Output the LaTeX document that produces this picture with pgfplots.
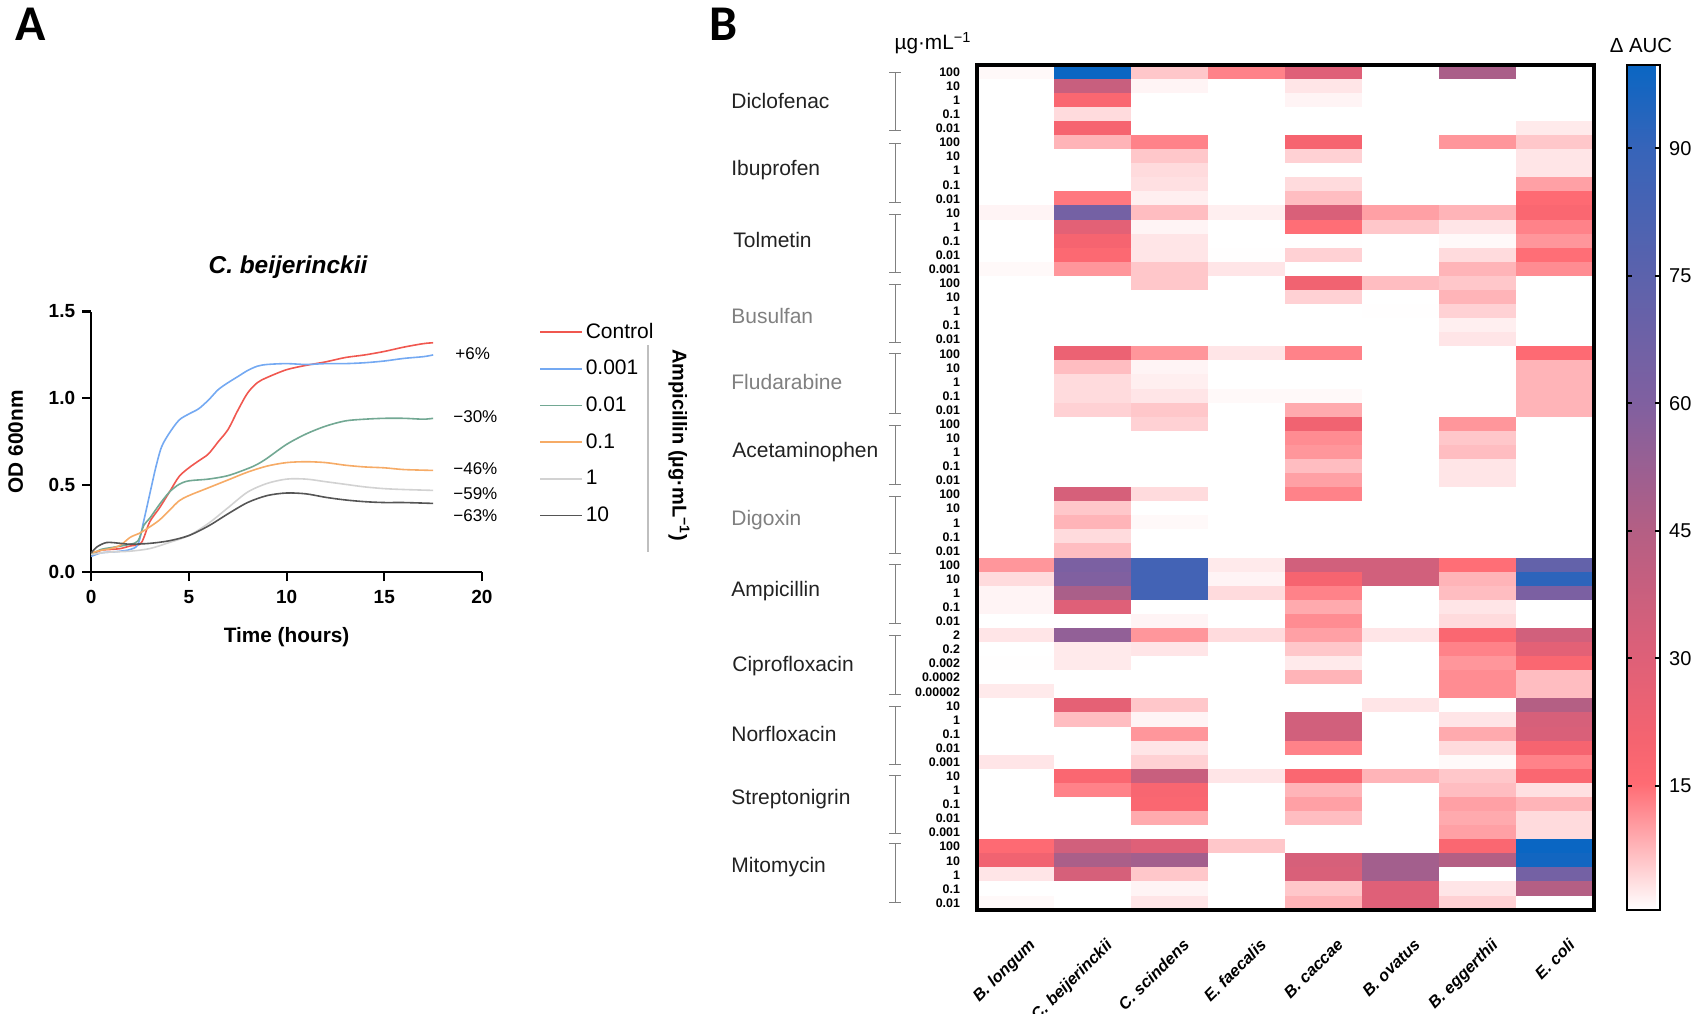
\documentclass[border=0pt]{standalone}
\usepackage{pgfplots}
\pgfplotsset{compat=1.18}
\usepackage{fontspec}
\setmainfont{Liberation Sans}
\newfontfamily\letterfont{Carlito}
\definecolor{cctrl}{HTML}{F0574F}
\definecolor{c001}{HTML}{74A9F2}
\definecolor{c01}{HTML}{72A893}
\definecolor{c1}{HTML}{F6AB66}
\definecolor{c10}{HTML}{D2D2D2}
\definecolor{c100}{HTML}{555555}
\definecolor{drugblack}{HTML}{222222}
\definecolor{druggrey}{HTML}{808080}
\pgfplotsset{
  /pgf/number format/assume math mode=true,
  curve/.style={line width=0.8pt, smooth, no markers},
}
\begin{document}
% coordinates of the picture are the pixels of the reference: 1 px = 0.5 pt, y going down
\begin{tikzpicture}[x=0.5pt, y=-0.5pt]
\path[use as bounding box] (0,0) rectangle (1702,1013);
\coordinate (axa) at (91.2,572);
\coordinate (axb) at (977,910);

\begin{axis}[
  name=panela,
  at={(axa)}, anchor=south west,
  scale only axis, width=195.4pt, height=130.25pt,
  xmin=0, xmax=20, ymin=0, ymax=1.5,
  axis x line=bottom, axis y line=left,
  axis line style={-, line width=1.1pt},
  every tick/.style={black, line width=1.1pt},
  xtick={0,5,...,20}, ytick={0,0.5,1,1.5},
  tick align=outside, major tick length=4.5pt,
  yticklabel style={/pgf/number format/fixed, /pgf/number format/fixed zerofill, /pgf/number format/precision=1},
  xticklabel style={yshift=-1pt},
  tick label style={font=\fontsize{9.5}{11}\selectfont\bfseries},
  xlabel={\bfseries Time (hours)}, ylabel={\bfseries OD 600nm},
  label style={font=\fontsize{10.4}{12}\selectfont},
  xlabel style={yshift=-5pt},
  ylabel style={yshift=6pt},
  clip=false,
  legend cell align=left,
  legend style={at={(1.13,0.985)}, anchor=north west, draw=none, fill=none,
    font=\fontsize{10.5}{12}\selectfont, row sep=6.5pt,
    nodes={inner sep=1.5pt}},
  legend image code/.code={
    \draw[#1, line width=0.8pt] (0pt,0pt) -- (14.5pt,0pt);
    \path (0pt,0pt) -- (21pt,0pt);
  },
]
\addplot[curve, color=cctrl] coordinates {
(0,0.10)(0.5,0.125)(1,0.13)(1.5,0.135)(2,0.15)(2.5,0.16)(2.7,0.2)(3,0.29)(3.5,0.37)(4,0.46)(4.5,0.55)(5,0.60)(5.5,0.64)(6,0.68)(6.5,0.75)(7,0.82)(7.5,0.93)(8,1.03)(8.5,1.09)(9,1.12)(10,1.165)(11,1.19)(12,1.21)(13,1.235)(14,1.25)(15,1.27)(16,1.295)(17,1.315)(17.5,1.32)};
\addlegendentry{Control}
\addplot[curve, color=c001] coordinates {
(0,0.09)(0.5,0.11)(1,0.115)(1.5,0.12)(2,0.13)(2.4,0.16)(2.7,0.3)(3,0.45)(3.3,0.6)(3.6,0.72)(4,0.8)(4.5,0.875)(5,0.91)(5.5,0.94)(6,0.99)(6.5,1.05)(7,1.09)(7.5,1.125)(8,1.16)(8.5,1.185)(9,1.195)(10,1.2)(11,1.195)(12,1.2)(13,1.2)(14,1.205)(15,1.215)(16,1.23)(17,1.24)(17.5,1.25)};
\addlegendentry{0.001}
\addplot[curve, color=c01] coordinates {
(0,0.1)(0.5,0.13)(1,0.14)(2,0.16)(2.4,0.18)(2.7,0.27)(3,0.31)(3.5,0.39)(4,0.46)(4.5,0.505)(5,0.525)(6,0.535)(7,0.555)(8,0.595)(8.5,0.62)(9,0.655)(10,0.735)(11,0.795)(12,0.84)(13,0.87)(14,0.88)(15,0.885)(16,0.885)(17,0.88)(17.5,0.885)};
\addlegendentry{0.01}
\addplot[curve, color=c1] coordinates {
(0,0.11)(0.5,0.125)(1,0.135)(1.5,0.155)(2,0.2)(2.5,0.225)(3,0.26)(3.5,0.3)(4,0.355)(4.5,0.41)(5,0.44)(6,0.485)(7,0.53)(8,0.575)(9,0.61)(10,0.63)(11,0.635)(12,0.63)(13,0.615)(14,0.605)(15,0.6)(16,0.59)(17.5,0.585)};
\addlegendentry{0.1}
\addplot[curve, color=c10] coordinates {
(0,0.1)(0.5,0.11)(1,0.115)(2,0.12)(3,0.135)(4,0.17)(5,0.21)(6,0.28)(7,0.37)(8,0.46)(9,0.51)(10,0.535)(11,0.535)(12,0.52)(13,0.505)(14,0.49)(15,0.48)(16,0.475)(17.5,0.47)};
\addlegendentry{1}
\addplot[curve, color=c100] coordinates {
(0,0.11)(0.3,0.145)(0.8,0.17)(1.5,0.165)(2,0.16)(3,0.165)(4,0.18)(5,0.21)(6,0.265)(7,0.335)(8,0.4)(9,0.44)(10,0.455)(11,0.45)(12,0.43)(13,0.415)(14,0.405)(15,0.4)(16,0.4)(17.5,0.395)};
\addlegendentry{10}
\end{axis}

\begin{axis}[
  name=heat,
  at={(axb)}, anchor=south west,
  scale only axis, width=308.5pt, height=422.5pt,
  xmin=-0.5, xmax=7.5, ymin=-0.5, ymax=59.5,
  y dir=reverse,
  axis line style={line width=1.7pt},
  axis on top,
  xtick={0,...,7}, ytick={0,...,59},
  major tick length=0pt,
  xtick pos=bottom, ytick pos=left,
  xticklabels={B. longum, C. beijerinckii, C. scindens, E. faecalis, B. caccae, B. ovatus, B. eggerthii, E. coli},
  xticklabel style={rotate=45, anchor=north east, font=\fontsize{8.2}{10}\selectfont\bfseries\itshape, yshift=-10.5pt, xshift=-2pt},
  yticklabels={100,10,1,0.1,0.01,100,10,1,0.1,0.01,10,1,0.1,0.01,0.001,100,10,1,0.1,0.01,100,10,1,0.1,0.01,100,10,1,0.1,0.01,100,10,1,0.1,0.01,100,10,1,0.1,0.01,2,0.2,0.002,0.0002,0.00002,10,1,0.1,0.01,0.001,10,1,0.1,0.01,0.001,100,10,1,0.1,0.01},
  yticklabel style={font=\fontsize{6.2}{7}\selectfont\bfseries, xshift=-5pt, inner ysep=0pt},
  colormap={auc}{
    rgb255(0)=(255,255,255)
    rgb255(15)=(255,107,115)
    rgb255(20)=(245,100,112)
    rgb255(30)=(222,96,120)
    rgb255(45)=(180,95,132)
    rgb255(60)=(128,96,160)
    rgb255(75)=(92,98,172)
    rgb255(90)=(55,100,185)
    rgb255(100)=(10,102,195)
  },
  point meta min=0.4, point meta max=99.8,
  colorbar,
  colorbar style={
    at={(parent axis.north east)}, anchor=north west, xshift=8pt,
    scale only axis, width=16.5pt,
    axis line style={line width=1pt},
    ytick={15,30,45,60,75,90},
    yticklabel pos=right,
    tick align=inside,
    major tick length=2.5pt,
    every tick/.style={black, line width=1pt},
    yticklabel style={font=\fontsize{10}{12}\selectfont, xshift=1pt},
  },
]
\addplot[matrix plot*, mesh/cols=8, point meta=explicit] coordinates {
(0,0)[1] (1,0)[100] (2,0)[6] (3,0)[13] (4,0)[30] (5,0)[0] (6,0)[48] (7,0)[0]
(0,1)[0] (1,1)[38] (2,1)[1.5] (3,1)[0] (4,1)[3] (5,1)[0] (6,1)[0] (7,1)[0]
(0,2)[0] (1,2)[18] (2,2)[0] (3,2)[0] (4,2)[1.5] (5,2)[0] (6,2)[0] (7,2)[0]
(0,3)[0] (1,3)[4] (2,3)[0] (3,3)[0] (4,3)[0] (5,3)[0] (6,3)[0] (7,3)[0]
(0,4)[0] (1,4)[20] (2,4)[0] (3,4)[0] (4,4)[0] (5,4)[0] (6,4)[0] (7,4)[2.5]
(0,5)[0] (1,5)[8] (2,5)[13] (3,5)[0] (4,5)[20] (5,5)[0] (6,5)[11] (7,5)[6]
(0,6)[0] (1,6)[0] (2,6)[6] (3,6)[0] (4,6)[5] (5,6)[0] (6,6)[0] (7,6)[3]
(0,7)[0] (1,7)[0] (2,7)[4] (3,7)[0] (4,7)[0] (5,7)[0] (6,7)[0] (7,7)[3]
(0,8)[0] (1,8)[0] (2,8)[3.5] (3,8)[0] (4,8)[4] (5,8)[0] (6,8)[0] (7,8)[10]
(0,9)[0] (1,9)[14] (2,9)[2] (3,9)[0] (4,9)[7] (5,9)[0] (6,9)[0] (7,9)[16]
(0,10)[1.5] (1,10)[65] (2,10)[7] (3,10)[2] (4,10)[32] (5,10)[10] (6,10)[8] (7,10)[18]
(0,11)[0] (1,11)[28] (2,11)[1.5] (3,11)[0] (4,11)[15] (5,11)[6] (6,11)[3] (7,11)[13]
(0,12)[0] (1,12)[20] (2,12)[3] (3,12)[0] (4,12)[0.5] (5,12)[0] (6,12)[1] (7,12)[11]
(0,13)[0] (1,13)[17] (2,13)[3] (3,13)[0.5] (4,13)[5] (5,13)[0] (6,13)[4] (7,13)[15]
(0,14)[1] (1,14)[11] (2,14)[6] (3,14)[3] (4,14)[0] (5,14)[0] (6,14)[8] (7,14)[12]
(0,15)[0] (1,15)[0] (2,15)[6] (3,15)[0] (4,15)[22] (5,15)[7] (6,15)[6] (7,15)[0]
(0,16)[0] (1,16)[0] (2,16)[0] (3,16)[0] (4,16)[5] (5,16)[0] (6,16)[8] (7,16)[0]
(0,17)[0] (1,17)[0] (2,17)[0] (3,17)[0] (4,17)[0] (5,17)[0.5] (6,17)[5] (7,17)[0]
(0,18)[0] (1,18)[0] (2,18)[0] (3,18)[0] (4,18)[0] (5,18)[0] (6,18)[2] (7,18)[0]
(0,19)[0] (1,19)[0] (2,19)[0] (3,19)[0] (4,19)[0] (5,19)[0] (6,19)[3] (7,19)[0]
(0,20)[0] (1,20)[24] (2,20)[11] (3,20)[3] (4,20)[13] (5,20)[0] (6,20)[0] (7,20)[16]
(0,21)[0] (1,21)[7] (2,21)[1.5] (3,21)[0] (4,21)[0] (5,21)[0] (6,21)[0] (7,21)[8]
(0,22)[0] (1,22)[4] (2,22)[2] (3,22)[0] (4,22)[0] (5,22)[0] (6,22)[0] (7,22)[8]
(0,23)[0] (1,23)[4] (2,23)[3] (3,23)[1] (4,23)[1] (5,23)[0] (6,23)[0] (7,23)[8]
(0,24)[0] (1,24)[5] (2,24)[6] (3,24)[0] (4,24)[9] (5,24)[0] (6,24)[0] (7,24)[8]
(0,25)[0] (1,25)[0] (2,25)[5] (3,25)[0] (4,25)[22] (5,25)[0] (6,25)[11] (7,25)[0]
(0,26)[0] (1,26)[0] (2,26)[0] (3,26)[0] (4,26)[12] (5,26)[0] (6,26)[6] (7,26)[0]
(0,27)[0] (1,27)[0] (2,27)[0] (3,27)[0] (4,27)[11] (5,27)[0] (6,27)[7] (7,27)[0]
(0,28)[0] (1,28)[0] (2,28)[0] (3,28)[0] (4,28)[7] (5,28)[0] (6,28)[3] (7,28)[0]
(0,29)[0] (1,29)[0] (2,29)[0] (3,29)[0] (4,29)[10] (5,29)[0] (6,29)[3] (7,29)[0]
(0,30)[0] (1,30)[33] (2,30)[4] (3,30)[0] (4,30)[13] (5,30)[0] (6,30)[0] (7,30)[0]
(0,31)[0] (1,31)[6] (2,31)[0] (3,31)[0] (4,31)[0] (5,31)[0] (6,31)[0] (7,31)[0]
(0,32)[0] (1,32)[8] (2,32)[1] (3,32)[0] (4,32)[0] (5,32)[0] (6,32)[0] (7,32)[0]
(0,33)[0] (1,33)[4] (2,33)[0] (3,33)[0] (4,33)[0] (5,33)[0] (6,33)[0] (7,33)[0]
(0,34)[0] (1,34)[7] (2,34)[0] (3,34)[0] (4,34)[0] (5,34)[0] (6,34)[0] (7,34)[0]
(0,35)[11] (1,35)[62] (2,35)[85] (3,35)[2.5] (4,35)[35] (5,35)[35] (6,35)[15] (7,35)[72]
(0,36)[4] (1,36)[60] (2,36)[85] (3,36)[1.5] (4,36)[20] (5,36)[35] (6,36)[8] (7,36)[92]
(0,37)[1.5] (1,37)[48] (2,37)[85] (3,37)[4] (4,37)[13] (5,37)[0] (6,37)[7] (7,37)[62]
(0,38)[1.5] (1,38)[30] (2,38)[0] (3,38)[0] (4,38)[9] (5,38)[0] (6,38)[3] (7,38)[0]
(0,39)[0] (1,39)[0] (2,39)[1.5] (3,39)[0] (4,39)[12] (5,39)[0] (6,39)[4] (7,39)[0]
(0,40)[3] (1,40)[55] (2,40)[11] (3,40)[4] (4,40)[10] (5,40)[3] (6,40)[18] (7,40)[35]
(0,41)[0] (1,41)[2.5] (2,41)[3] (3,41)[0] (4,41)[6] (5,41)[0] (6,41)[13] (7,41)[28]
(0,42)[0.5] (1,42)[2.5] (2,42)[0] (3,42)[0] (4,42)[2.5] (5,42)[0] (6,42)[11] (7,42)[18]
(0,43)[0] (1,43)[0] (2,43)[0] (3,43)[0] (4,43)[8] (5,43)[0] (6,43)[12] (7,43)[7]
(0,44)[2.5] (1,44)[0] (2,44)[0] (3,44)[0] (4,44)[0] (5,44)[0] (6,44)[12] (7,44)[7]
(0,45)[0] (1,45)[27] (2,45)[6] (3,45)[0] (4,45)[0] (5,45)[3] (6,45)[0] (7,45)[45]
(0,46)[0] (1,46)[7] (2,46)[1.5] (3,46)[0] (4,46)[35] (5,46)[0] (6,46)[3] (7,46)[33]
(0,47)[0] (1,47)[0] (2,47)[11] (3,47)[0] (4,47)[35] (5,47)[0] (6,47)[9] (7,47)[32]
(0,48)[0] (1,48)[0] (2,48)[3] (3,48)[0] (4,48)[13] (5,48)[0] (6,48)[4] (7,48)[20]
(0,49)[3] (1,49)[0] (2,49)[5] (3,49)[0] (4,49)[0] (5,49)[0] (6,49)[1] (7,49)[13]
(0,50)[0] (1,50)[18] (2,50)[38] (3,50)[3] (4,50)[18] (5,50)[8] (6,50)[6] (7,50)[18]
(0,51)[0] (1,51)[13] (2,51)[19] (3,51)[0] (4,51)[8] (5,51)[0] (6,51)[7] (7,51)[3.5]
(0,52)[0] (1,52)[0] (2,52)[18] (3,52)[0] (4,52)[10] (5,52)[0] (6,52)[10] (7,52)[8]
(0,53)[0] (1,53)[0] (2,53)[9] (3,53)[0] (4,53)[7] (5,53)[0] (6,53)[9] (7,53)[4]
(0,54)[0] (1,54)[0] (2,54)[0] (3,54)[0] (4,54)[0] (5,54)[0] (6,54)[10] (7,54)[4]
(0,55)[16] (1,55)[35] (2,55)[30] (3,55)[6] (4,55)[0] (5,55)[0] (6,55)[18] (7,55)[100]
(0,56)[22] (1,56)[48] (2,56)[50] (3,56)[0] (4,56)[33] (5,56)[50] (6,56)[45] (7,56)[98]
(0,57)[3] (1,57)[33] (2,57)[6] (3,57)[0] (4,57)[32] (5,57)[50] (6,57)[0] (7,57)[65]
(0,58)[0] (1,58)[0] (2,58)[1.5] (3,58)[0] (4,58)[6] (5,58)[30] (6,58)[3] (7,58)[45]
(0,59)[1] (1,59)[0] (2,59)[3] (3,59)[0] (4,59)[8] (5,59)[30] (6,59)[5] (7,59)[0]
};
\end{axis}

% panel letters and titles
\node[font=\letterfont\fontsize{25}{28}\selectfont\bfseries] at (31,24) {A};
\node[font=\letterfont\fontsize{25}{28}\selectfont\bfseries] at (724,24) {B};
\node[font=\fontsize{12.2}{14}\selectfont\bfseries\itshape] at (288,267) {C. beijerinckii};
\node[font=\fontsize{10.4}{12}\selectfont] at (933,43) {µg·mL\textsuperscript{−1}};
\node[font=\fontsize{10.2}{12}\selectfont] at (1641,45) {Δ AUC};

% percentage labels next to the curves
\begin{scope}[every node/.style={font=\fontsize{8.5}{10}\selectfont, anchor=west, inner sep=0pt}]
\node at (455,354) {+6\%};
\node at (453,417) {−30\%};
\node at (453,469) {−46\%};
\node at (453,494) {−59\%};
\node at (453,516) {−63\%};
\end{scope}

% ampicillin bracket of the legend
\draw[color=lightgray, line width=0.7pt] (648,345) -- (648,552);
\node[rotate=-90, font=\fontsize{10}{12}\selectfont\bfseries] at (679,445) {Ampicillin (µg·mL\textsuperscript{−1})};

% drug names
\begin{scope}[every node/.style={font=\fontsize{10.5}{12}\selectfont, anchor=west, inner sep=0pt, text=drugblack}]
\node at (731,101) {Diclofenac};
\node at (731,170) {Ibuprofen};
\node at (733,240) {Tolmetin};
\node[text=druggrey] at (731,316) {Busulfan};
\node[text=druggrey] at (731,382) {Fludarabine};
\node at (732,452) {Acetaminophen};
\node[text=druggrey] at (731,520) {Digoxin};
\node at (731,591) {Ampicillin};
\node at (732,666) {Ciprofloxacin};
\node at (731,734) {Norfloxacin};
\node at (731,799) {Streptonigrin};
\node at (731,867) {Mitomycin};
\end{scope}

% brackets, one per drug
\begin{scope}[color=gray, line width=0.45pt]
\foreach \ya/\yb in {72/130,143/202,214/272,284/342,353/413,425/484,496/553,564/623,635/694,706/764,775/833,843/902} {
  \draw (895,\ya) -- (895,\yb);
  \draw (889,\ya) -- (901,\ya);
  \draw (889,\yb) -- (901,\yb);
}
\end{scope}
\end{tikzpicture}
\end{document}
